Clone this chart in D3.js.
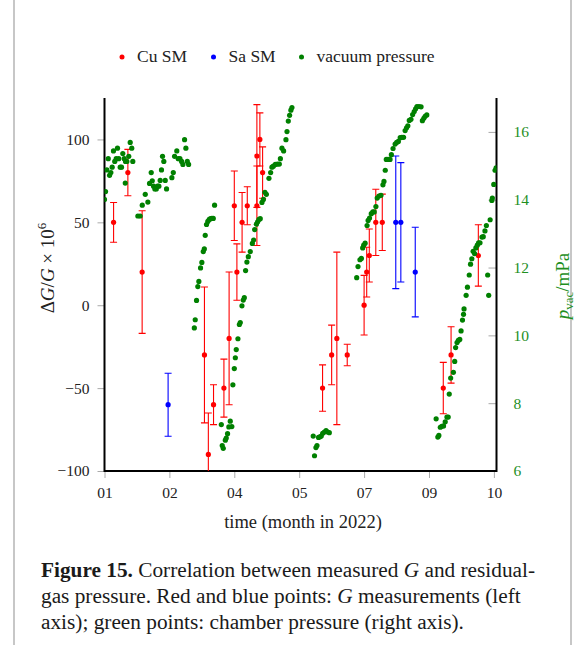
<!DOCTYPE html>
<html><head><meta charset="utf-8">
<script src="https://cdn.jsdelivr.net/npm/d3@7/dist/d3.min.js"></script>
<style>
html,body{margin:0;padding:0;background:#fff;}
svg{display:block;}
text{font-family:"Liberation Serif","Times New Roman",serif;}
</style></head>
<body>
<svg id="chart" width="581" height="645"></svg>
<script>
// ---------------- data (days since 1 Jan 2022) ----------------
const xTickDays   = [0, 50, 100, 150, 200, 250, 300];
const xTickLabels = ["01", "02", "04", "05", "07", "09", "10"];
const leftTicks   = [-100, -50, 0, 50, 100];
const rightTicks  = [6, 8, 10, 12, 14, 16];

const cuDays   = [7, 18, 29, 77, 80, 84, 92, 96, 100, 102, 106, 110, 117.4, 117.4, 119.7, 121.8,
                  168, 175, 179, 187, 200, 202, 204, 209, 214, 261, 267, 288];
const cuValues = [50, 80, 20, -30, -90, -60, -50, -20, 60, 20, 50, 60, 90, 60, 100, 80,
                  -50, -30, -20, -30, 0, 20, 30, 50, 50, -50, -30, 30];
const cuErrors = [12, 14, 37, 41, 25, 12, 17.5, 40, 21, 17, 18, 11.5, 31, 24, 16, 15.5,
                  14, 18, 52, 6.5, 18, 15, 16, 20, 17, 15.5, 17, 18.5];

const saDays   = [49, 224.4, 228.3, 239.4];
const saValues = [-60, 50, 50, 20];
const saErrors = [19, 40, 36, 27];

const vacDays = [
  0, 0.8, 1.8, 2.9, 3.9, 4.9, 5.9, 6.9, 7.9, 9.0, 10.0, 11.0, 12.1, 13.1, 14.1, 15.2, 16.2, 16.0, 17.2, 18.7, 19.8, 21.0, 21.8,
  25.7, 27.5, 29.1, 31.4, 33.4, 34.7, 36.0, 36.8, 37.8, 38.8, 39.9, 40.9, 41.9, 42.9, 43.9, 44.7, 45.7, 46.8, 47.8,
  51.9, 53.0, 54.0, 55.7, 56.8, 58.1, 59.4, 60.4, 61.7, 62.7, 63.8, 64.8,
  69.2, 69.9, 70.9, 71.9, 72.7, 74.0, 75.0, 76.1, 76.9, 77.6, 78.6, 79.6, 80.7, 81.7, 82.7, 83.8, 84.8,
  90.0, 90.7, 91.5, 93.1, 93.8, 94.8, 95.8, 96.9, 98.1, 98.9, 100.0, 100.8, 101.5, 102.8, 103.9, 104.6, 105.9, 106.9, 107.7,
  108.7, 109.7, 110.8, 112.3, 113.9, 114.9, 115.7, 117.0, 118.0, 119.0, 120.0, 121.3, 122.4, 123.6, 124.7, 126.7, 128.0,
  129.0, 130.1, 131.6, 133.2, 134.7, 135.5, 136.7, 138.0, 139.8, 140.6, 141.6, 142.6, 143.6, 144.4,
  160.8, 161.8, 162.9, 163.7, 164.9, 166.0, 167.0, 168.1, 169.4, 170.7, 171.9, 173.2,
  194.3, 195.3, 196.8, 197.9, 198.9, 199.7, 200.8, 202.3, 203.1, 204.2, 205.5, 206.7, 207.8, 209.1, 210.1, 211.4, 213.0,
  214.5, 215.3, 216.3, 217.1, 218.4, 220.0, 221.0, 222.3, 223.9, 225.1, 226.4, 227.8, 229.1, 230.4, 231.6, 232.7, 233.7,
  234.8, 236.1, 237.4, 238.6, 239.7, 240.7, 242.3, 243.9, 244.9, 246.0, 247.0, 248.3,
  255.5, 256.8, 257.6, 258.7, 259.9, 261.2, 262.5, 263.8, 264.8, 265.6, 266.7, 268.8, 269.8, 270.5, 271.6, 272.6, 273.7,
  274.7, 275.8, 276.6, 277.0, 278.6, 279.6, 281.0, 282.0, 283.0, 284.0, 285.1, 286.1, 287.2, 288.2, 289.3, 290.8, 291.8,
  293.1, 294.2, 295.2, 296.0, 297.1, 298.4, 298.8, 299.9, 300.9, 301.7
];
const vacPressure = [
  14.01, 14.24, 14.88, 15.21, 14.72, 14.80, 14.96, 15.44, 15.13, 15.21, 15.52, 15.21, 14.96, 14.96, 15.36, 15.21, 15.13, 14.49, 15.13, 15.28, 15.69, 15.52, 15.13,
  13.52, 13.52, 13.84, 14.16, 13.93, 14.48, 14.80, 14.56, 14.40, 14.32, 14.32, 14.40, 14.40, 14.57, 14.88, 15.28, 15.13, 14.57, 14.32,
  14.65, 14.80, 15.28, 15.44, 15.21, 15.21, 15.13, 15.04, 15.77, 15.52, 15.13, 15.04,
  10.22, 10.46, 11.03, 11.44, 11.59, 11.99, 12.15, 12.47, 12.55, 12.95, 13.27, 13.36, 13.42, 13.44, 13.45, 13.45, 13.84,
  7.37, 6.75, 6.67, 6.91, 6.97, 7.10, 7.30, 7.47, 7.31, 8.54, 9.02, 9.34, 9.58, 9.90, 10.32, 10.38, 10.87, 11.04, 11.11,
  11.91, 12.16, 12.32, 12.47, 12.71, 12.81, 13.12, 13.28, 13.35, 13.42, 13.44, 13.92, 14.01, 14.22, 14.16, 14.63, 14.80,
  14.96, 14.99, 15.04, 15.05, 15.05, 15.21, 15.52, 15.44, 15.77, 16.01, 16.32, 16.49, 16.64, 16.72,
  7.03, 6.45, 6.69, 6.75, 6.99, 7.01, 7.03, 7.11, 7.15, 7.19, 7.15, 7.13,
  11.70, 12.03, 12.23, 12.27, 12.58, 12.66, 12.72, 13.24, 13.39, 13.46, 13.59, 13.64, 13.64, 13.80, 14.05, 14.11, 14.13,
  14.44, 14.54, 14.87, 15.19, 15.19, 15.19, 15.33, 15.51, 15.64, 15.69, 15.72, 15.83, 15.84, 15.84, 16.04, 16.12, 16.18,
  16.34, 16.37, 16.51, 16.60, 16.68, 16.75, 16.75, 16.74, 16.33, 16.40, 16.46, 16.50,
  7.54, 7.00, 7.05, 7.29, 7.32, 7.33, 7.45, 7.59, 7.59, 8.27, 8.74, 8.91, 9.23, 9.64, 9.79, 9.85, 9.88,
  10.13, 10.45, 10.62, 10.78, 11.18, 11.42, 11.78, 12.10, 12.26, 12.48, 12.41, 12.58, 12.66, 12.73, 12.73, 12.90, 12.91,
  13.08, 13.24, 11.78, 11.18, 13.41, 13.98, 14.05, 14.45, 14.87, 14.94
];

// ---------------- layout ----------------
const svg = d3.select("#chart");
const L = 104.5, R = 496.5, T = 98, B = 471;
const RED = "#ff0000", BLUE = "#0000ff", GREEN = "#008000";

const x  = d3.scaleLinear().domain([0, 302]).range([L, R]);
const yL = d3.scaleLinear().domain([-100, 125]).range([B, T]);
const yR = d3.scaleLinear().domain([6, 17]).range([B, T]);

// page frame lines
svg.append("line").attr("x1", 14).attr("x2", 14).attr("y1", 0).attr("y2", 645)
   .attr("stroke", "#b4b4b4").attr("stroke-width", 1.5);
svg.append("line").attr("x1", 571).attr("x2", 571).attr("y1", 0).attr("y2", 645)
   .attr("stroke", "#b4b4b4").attr("stroke-width", 1.5);

// clip
svg.append("clipPath").attr("id", "plotclip").append("rect")
   .attr("x", L).attr("y", T - 30).attr("width", R - L).attr("height", B - T + 30);

// ---------------- axes ----------------
const tickColor = "#aaaaaa";
const axB = svg.append("g").attr("transform", `translate(0,${B})`)
  .call(d3.axisBottom(x).tickValues(xTickDays).tickFormat((d, i) => xTickLabels[i]).tickSize(7).tickPadding(9));
const axL = svg.append("g").attr("transform", `translate(${L},0)`)
  .call(d3.axisLeft(yL).tickValues(leftTicks).tickFormat(d => d < 0 ? "\u2212" + Math.abs(d) : d).tickSize(7).tickPadding(8));
const axR = svg.append("g").attr("transform", `translate(${R},0)`)
  .call(d3.axisRight(yR).tickValues(rightTicks).tickSize(-8).tickPadding(17));
[axB, axL, axR].forEach(g => {
  g.select(".domain").remove();
  g.selectAll(".tick line").attr("stroke", tickColor).attr("stroke-width", 1);
  g.selectAll(".tick text").attr("font-family", "Liberation Serif, serif").attr("font-size", 15.5).attr("fill", "#222");
});
axR.selectAll(".tick text").attr("fill", "#1f8f1f");

// axis lines (left, bottom, right)
svg.append("path")
  .attr("d", `M${L},${T}V${B}H${R}V${T}`)
  .attr("fill", "none").attr("stroke", "#000").attr("stroke-width", 2);

// ---------------- marks ----------------
const plot = svg.append("g").attr("clip-path", "url(#plotclip)");
function errorSeries(days, vals, errs, color) {
  const g = plot.append("g");
  const idx = d3.range(days.length);
  g.selectAll("line.v").data(idx).join("line")
    .attr("x1", i => x(days[i])).attr("x2", i => x(days[i]))
    .attr("y1", i => yL(vals[i] + errs[i])).attr("y2", i => yL(vals[i] - errs[i]))
    .attr("stroke", color).attr("stroke-width", 1.1);
  ["+", "-"].forEach(s => {
    g.selectAll("line.c" + (s === "+" ? "p" : "m")).data(idx).join("line")
      .attr("x1", i => x(days[i]) - 3.5).attr("x2", i => x(days[i]) + 3.5)
      .attr("y1", i => yL(vals[i] + (s === "+" ? 1 : -1) * errs[i]))
      .attr("y2", i => yL(vals[i] + (s === "+" ? 1 : -1) * errs[i]))
      .attr("stroke", color).attr("stroke-width", 1.1);
  });
  g.selectAll("circle").data(idx).join("circle")
    .attr("cx", i => x(days[i])).attr("cy", i => yL(vals[i])).attr("r", 2.6).attr("fill", color);
}
errorSeries(cuDays, cuValues, cuErrors, RED);
errorSeries(saDays, saValues, saErrors, BLUE);

plot.append("g").selectAll("circle").data(d3.range(vacDays.length)).join("circle")
  .attr("cx", i => x(vacDays[i])).attr("cy", i => yR(vacPressure[i])).attr("r", 2.6).attr("fill", GREEN);

// ---------------- legend ----------------
const legend = [
  {label: "Cu SM", color: RED, dx: 122, tx: 137},
  {label: "Sa SM", color: BLUE, dx: 213.5, tx: 228.5},
  {label: "vacuum pressure", color: GREEN, dx: 301.5, tx: 316.5}
];
const lg = svg.append("g");
legend.forEach(d => {
  lg.append("circle").attr("cx", d.dx).attr("cy", 57).attr("r", 2.5).attr("fill", d.color);
  lg.append("text").attr("x", d.tx).attr("y", 62).attr("font-size", 17.5).attr("fill", "#222").text(d.label);
});

// ---------------- axis titles ----------------
svg.append("text").attr("x", 303).attr("y", 528).attr("text-anchor", "middle")
  .attr("font-size", 18.5).attr("fill", "#222").text("time (month in 2022)");

const ylab = svg.append("text").attr("transform", "translate(54,268) rotate(-90)")
  .attr("text-anchor", "middle").attr("font-size", 19).attr("fill", "#222");
ylab.append("tspan").text("\u0394");
ylab.append("tspan").attr("font-style", "italic").text("G");
ylab.append("tspan").text("/");
ylab.append("tspan").attr("font-style", "italic").text("G");
ylab.append("tspan").text(" \u00d7 10");
ylab.append("tspan").attr("font-size", 13).attr("dy", -8).text("6");

const rlab = svg.append("text").attr("transform", "translate(569,286) rotate(-90)")
  .attr("text-anchor", "middle").attr("font-size", 19).attr("fill", "#1f8f1f");
rlab.append("tspan").attr("font-style", "italic").text("p");
rlab.append("tspan").attr("font-size", 13).attr("dy", 4).text("vac");
rlab.append("tspan").attr("dy", -4).text("/mPa");

// ---------------- caption ----------------
const cap = svg.append("g").attr("font-size", 21.3).attr("fill", "#1a1a1a");
const c1 = cap.append("text").attr("x", 41).attr("y", 577);
c1.append("tspan").attr("font-weight", "bold").text("Figure 15.");
c1.append("tspan").text(" Correlation between measured ");
c1.append("tspan").attr("font-style", "italic").text("G");
c1.append("tspan").text(" and residual-");
const c2 = cap.append("text").attr("x", 41).attr("y", 603);
c2.append("tspan").text("gas pressure. Red and blue points: ");
c2.append("tspan").attr("font-style", "italic").text("G");
c2.append("tspan").text(" measurements (left");
cap.append("text").attr("x", 41).attr("y", 629).text("axis); green points: chamber pressure (right axis).");
</script>
</body></html>
